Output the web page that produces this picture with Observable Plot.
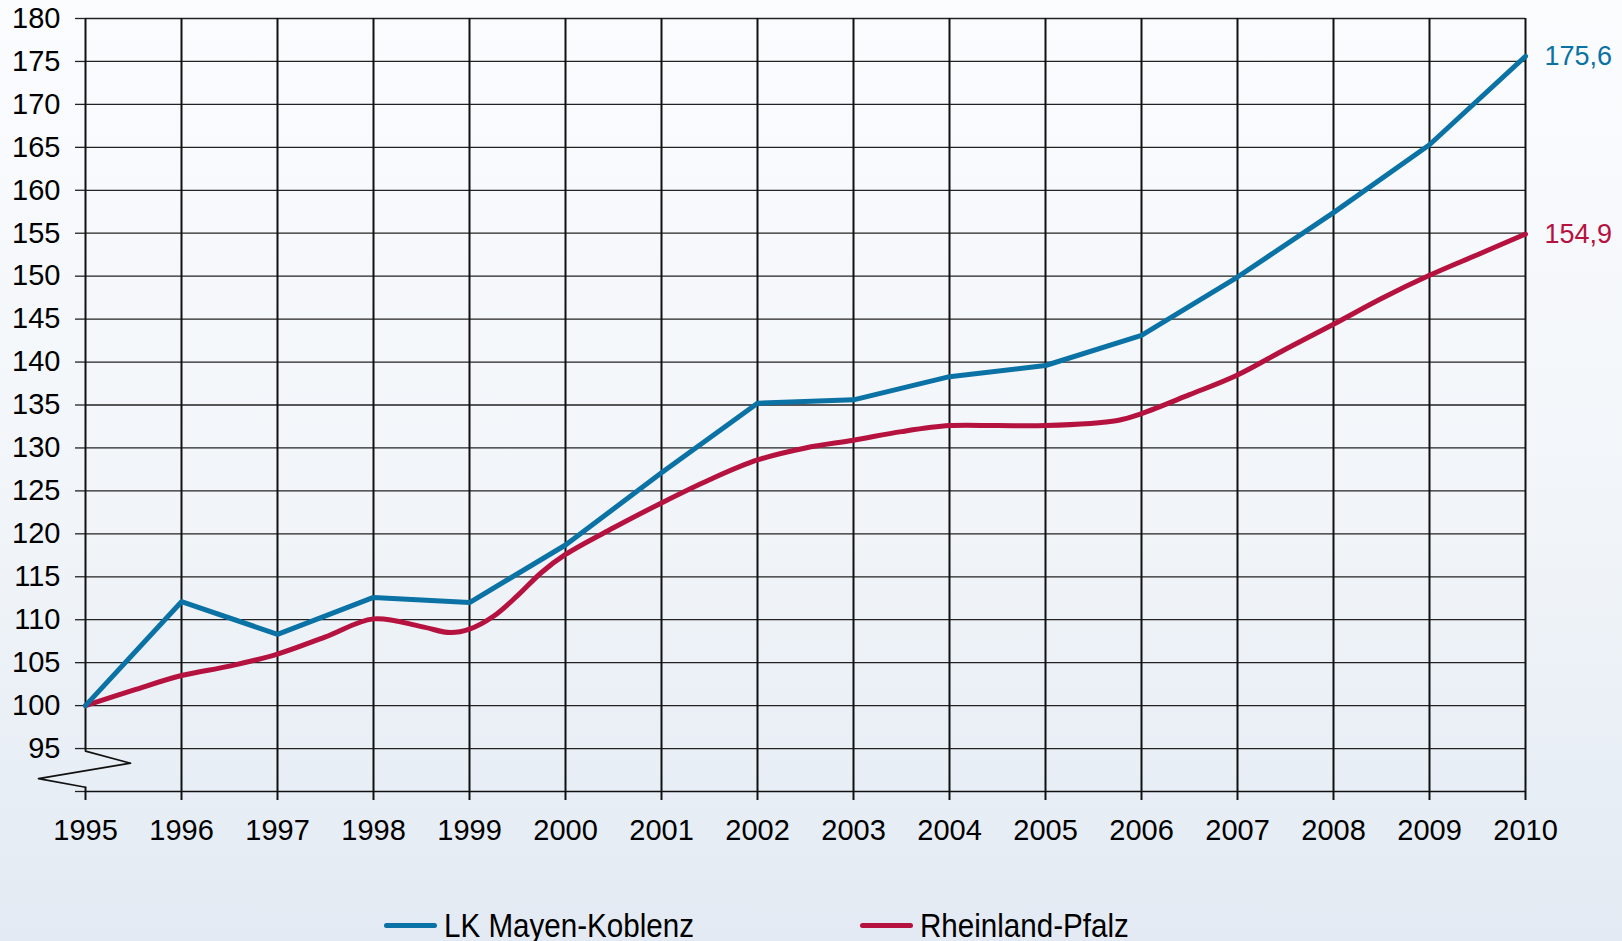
<!DOCTYPE html>
<html>
<head>
<meta charset="utf-8">
<script src="https://cdn.jsdelivr.net/npm/d3@7"></script>
<script src="https://cdn.jsdelivr.net/npm/@observablehq/plot@0.6"></script>
<style>
  html, body { margin: 0; padding: 0; }
  body {
    width: 1622px; height: 941px; overflow: hidden;
    background: linear-gradient(to bottom, #fbfcfe 0%, #f1f5f9 55%, #e3eaf3 100%);
    font-family: "Liberation Sans", Arial, sans-serif;
  }
  #chart svg { display: block; }
  #legend { position: relative; width: 1622px; height: 61px; }
  .item { position: absolute; top: 26px; display: flex; align-items: center; height: 38px; }
  .swatch { width: 53px; height: 5px; border-radius: 3px; margin-right: 7px; flex: none; }
  .label { display: inline-block; font-family: "Liberation Sans Narrow", "Arial Narrow", "Liberation Sans", sans-serif; font-size: 34px; color: #000; white-space: nowrap; transform: scaleX(0.87); transform-origin: left center; }
</style>
</head>
<body>
<div id="chart"></div>
<div id="legend"></div>
<script>
// ---- data ----
const years = [1995, 1996, 1997, 1998, 1999, 2000, 2001, 2002, 2003, 2004, 2005, 2006, 2007, 2008, 2009, 2010];
const mayenKoblenz = [100, 112.1, 108.3, 112.6, 112.0, 118.7, 127.1, 135.2, 135.6, 138.3, 139.6, 143.1, 149.9, 157.4, 165.3, 175.6];

const rlpTime  = [1995, 1995.5, 1996, 1996.5, 1997, 1997.5, 1998, 1998.5, 1998.8, 1999, 1999.25, 1999.5, 1999.75, 2000, 2000.5, 2001, 2001.5, 2002, 2002.5, 2003, 2003.5, 2004, 2004.5, 2005, 2005.75, 2006, 2006.5, 2007, 2007.5, 2008, 2008.5, 2009, 2009.5, 2010];
const rlpValue = [100, 101.8, 103.5, 104.6, 106.0, 108.0, 110.1, 109.2, 108.5, 108.9, 110.4, 112.8, 115.5, 117.6, 120.7, 123.6, 126.3, 128.6, 130.0, 130.9, 131.9, 132.6, 132.6, 132.6, 133.2, 134.0, 136.2, 138.5, 141.5, 144.4, 147.4, 150.1, 152.5, 154.9];

const yTicks = [90, 95, 100, 105, 110, 115, 120, 125, 130, 135, 140, 145, 150, 155, 160, 165, 170, 175, 180];
const seriesNames = ["LK Mayen-Koblenz", "Rheinland-Pfalz"];
const endLabels = ["175,6", "154,9"];
const colors = ["#0a72a4", "#b5123f"];

// axis-break zigzag (in data units: year, index value)
const breakX = [1995, 1995.47, 1994.51, 1995];
const breakY = [94.7, 93.3, 91.5, 90.5];

// ---- build tables ----
const mk = years.map((x, i) => ({x, y: mayenKoblenz[i]}));
const rlp = rlpTime.map((x, i) => ({x, y: rlpValue[i]}));
const zig = breakX.map((x, i) => ({x, y: breakY[i]}));
const ends = [
  {x: 2010, y: mayenKoblenz[mayenKoblenz.length - 1], t: endLabels[0], c: colors[0]},
  {x: 2010, y: rlpValue[rlpValue.length - 1], t: endLabels[1], c: colors[1]}
];

const chart = Plot.plot({
  width: 1622,
  height: 880,
  marginLeft: 85,
  marginRight: 97,
  marginTop: 18,
  marginBottom: 89,
  x: {domain: [1995, 2010]},
  y: {domain: [90, 180]},
  style: {background: "transparent", fontFamily: "'Liberation Sans', Arial, sans-serif", fontSize: "29px", color: "#000", overflow: "visible"},
  marks: [
    Plot.ruleY(yTicks.filter(d => d > 90), {x1: 1995, x2: 2010, stroke: "#222", strokeWidth: 1.3}),
    Plot.ruleY([90], {x1: 1995, x2: 2010, stroke: "#111", strokeWidth: 1.6}),
    Plot.ruleX(years.slice(1), {y1: 90, y2: 180, stroke: "#111", strokeWidth: 2}),
    Plot.ruleX([1995], {y1: breakY[0], y2: 180, stroke: "#111", strokeWidth: 2}),
    Plot.ruleX([1995], {y1: 90, y2: breakY[breakY.length - 1], stroke: "#111", strokeWidth: 2}),
    Plot.line(zig, {x: "x", y: "y", stroke: "#111", strokeWidth: 1.6, curve: "linear"}),
    Plot.axisY({ticks: yTicks, tickSize: 10, tickPadding: 15, tickFormat: d => d === 90 ? "" : String(d), stroke: "#222", strokeWidth: 1.3, label: null}),
    Plot.axisX({ticks: years, tickSize: 9, tickPadding: 19, tickFormat: d => String(d), stroke: "#111", strokeWidth: 2, label: null}),
    Plot.line(rlp, {x: "x", y: "y", stroke: colors[1], strokeWidth: 5, curve: "catmull-rom"}),
    Plot.line(mk, {x: "x", y: "y", stroke: colors[0], strokeWidth: 5}),
    Plot.text(ends, {x: "x", y: "y", text: "t", fill: "c", dx: 19, textAnchor: "start", fontSize: 27})
  ]
});
document.getElementById("chart").appendChild(chart);

// ---- legend ----
const legend = document.getElementById("legend");
const lefts = [384, 860];
seriesNames.forEach((name, i) => {
  const item = document.createElement("div");
  item.className = "item";
  item.style.left = lefts[i] + "px";
  const sw = document.createElement("div");
  sw.className = "swatch";
  sw.style.background = colors[i];
  const lb = document.createElement("span");
  lb.className = "label";
  lb.textContent = name;
  item.appendChild(sw);
  item.appendChild(lb);
  legend.appendChild(item);
});
</script>
</body>
</html>
